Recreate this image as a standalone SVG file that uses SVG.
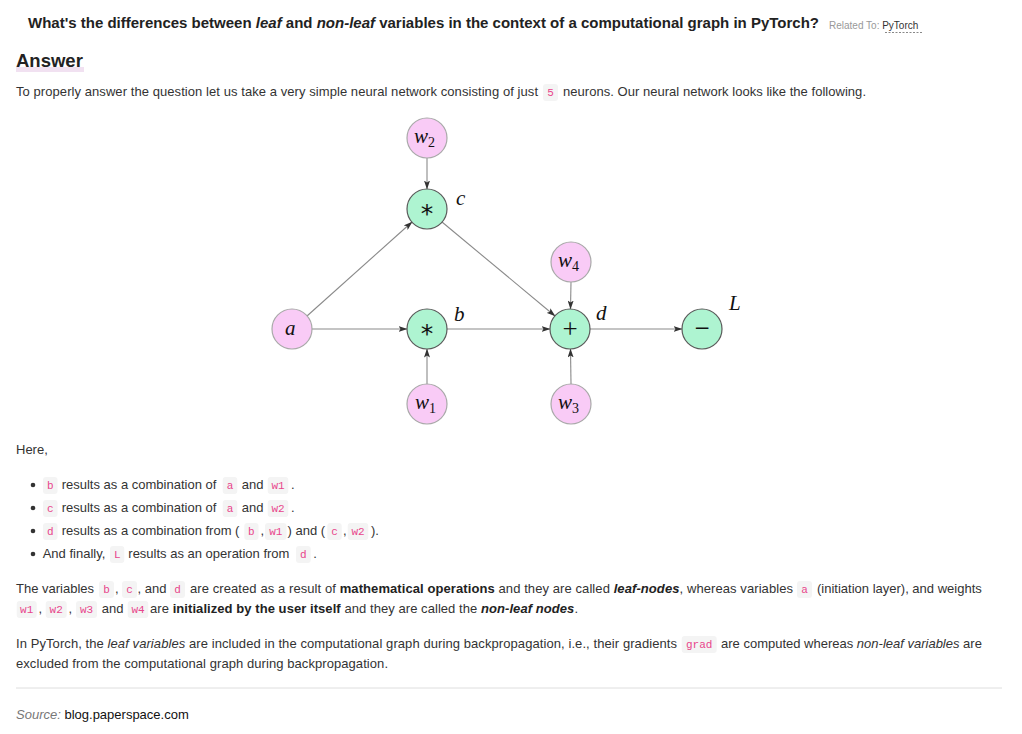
<svg xmlns="http://www.w3.org/2000/svg" width="1022" height="734" viewBox="0 0 1022 734">
<style>
.t{font-family:"Liberation Sans",Arial,Helvetica,sans-serif;font-size:13px;fill:#333}
.title{font-family:"Liberation Sans",Arial,sans-serif;font-size:15px;font-weight:bold;fill:#222}
.rel{font-family:"Liberation Sans",Arial,sans-serif;font-size:10px;fill:#999}
.b{font-weight:bold;fill:#222}
.i{font-style:italic}
.cb{fill:#f4f4f4}
.code{font-family:"Liberation Mono","DejaVu Sans Mono",monospace;font-size:11px;fill:#e8458b;text-anchor:middle}
.pink{fill:#f9cbf6;stroke:#a9a9a9;stroke-width:1.2}
.green{fill:#aef4d1;stroke:#5a5a5a;stroke-width:1.2}
.m{font-family:"Liberation Serif","DejaVu Serif",serif;font-style:italic;font-size:21px;fill:#111}
.sub{font-family:"Liberation Serif","DejaVu Serif",serif;font-style:normal;font-size:14px}
.op{font-family:"Liberation Serif","DejaVu Serif",serif;font-size:27px;fill:#111;text-anchor:middle}
.ast{font-family:"DejaVu Sans",sans-serif;font-size:25px;fill:#111;text-anchor:middle}
.edge{stroke:#8a8a8a;stroke-width:1.1;fill:none;marker-end:url(#arr)}
</style>
<defs>
<marker id="arr" markerWidth="9" markerHeight="6" refX="8.5" refY="3" orient="auto" markerUnits="userSpaceOnUse">
<path d="M0,0 L9,3 L0,6 L2,3 z" fill="#333"/>
</marker>
</defs>
<rect width="1022" height="734" fill="#fff"/>

<!-- header -->
<text class="title" x="28" y="28">What's the differences between <tspan class="i">leaf</tspan> and <tspan class="i">non-leaf</tspan> variables in the context of a computational graph in PyTorch?</text>
<text class="rel" x="829" y="29">Related To: <tspan fill="#333">PyTorch</tspan></text>
<line x1="885" y1="32.5" x2="923" y2="32.5" stroke="#888" stroke-width="1" stroke-dasharray="2,1.5"/>
<rect x="16" y="67" width="68" height="5" fill="#f1e1f1"/>
<text x="16" y="67" font-family="'Liberation Sans',Arial,sans-serif" font-size="18.5" font-weight="bold" fill="#222">Answer</text>
<text class="t" x="16" y="96" textLength="522" lengthAdjust="spacing">To properly answer the question let us take a very simple neural network consisting of just</text>
<rect class="cb" x="543" y="84" width="15" height="17" rx="3"/>
<text class="code" x="550.5" y="96">5</text>
<text class="t" x="563" y="96" textLength="303" lengthAdjust="spacing">neurons. Our neural network looks like the following.</text>

<!-- connectors -->
<g id="connectors">
<line class="edge" x1="427" y1="158" x2="427" y2="189"/>
<line class="edge" x1="307" y1="316" x2="412" y2="222"/>
<line class="edge" x1="312" y1="329" x2="407" y2="329"/>
<line class="edge" x1="427" y1="384" x2="427" y2="349"/>
<line class="edge" x1="442" y1="222" x2="555" y2="316"/>
<line class="edge" x1="447" y1="329" x2="550" y2="329"/>
<line class="edge" x1="571" y1="282" x2="570.5" y2="309"/>
<line class="edge" x1="571" y1="384" x2="570.5" y2="349"/>
<line class="edge" x1="590" y1="329" x2="682" y2="329"/>
</g>

<!-- nodes -->
<g id="node-w2"><circle class="pink" cx="427" cy="138" r="20"/><text class="m" x="414" y="143">w<tspan class="sub" dy="4">2</tspan></text></g>
<g id="node-c"><circle class="green" cx="427" cy="209" r="20"/><text class="ast" x="427" y="222">*</text><text class="m" x="456" y="205">c</text></g>
<g id="node-a"><circle class="pink" cx="292" cy="329" r="20"/><text class="m" x="285" y="335">a</text></g>
<g id="node-b"><circle class="green" cx="427" cy="329" r="20"/><text class="ast" x="427" y="342">*</text><text class="m" x="454" y="321">b</text></g>
<g id="node-w1"><circle class="pink" cx="427" cy="404" r="20"/><text class="m" x="415" y="409">w<tspan class="sub" dy="4">1</tspan></text></g>
<g id="node-w4"><circle class="pink" cx="571" cy="262" r="20"/><text class="m" x="558" y="267">w<tspan class="sub" dy="4">4</tspan></text></g>
<g id="node-d"><circle class="green" cx="570" cy="329" r="20"/><text class="op" x="570" y="338">+</text><text class="m" x="596" y="320">d</text></g>
<g id="node-w3"><circle class="pink" cx="571" cy="404" r="20"/><text class="m" x="558" y="409">w<tspan class="sub" dy="4">3</tspan></text></g>
<g id="node-L"><circle class="green" cx="702" cy="329" r="20"/><text class="op" x="702" y="337" font-size="31">−</text><text class="m" x="729" y="310">L</text></g>

<!-- text below -->
<text class="t" x="16" y="454">Here,</text>
<g id="bullets">
<circle cx="33" cy="485" r="2.3" fill="#333"/>
<circle cx="33" cy="508" r="2.3" fill="#333"/>
<circle cx="33" cy="531" r="2.3" fill="#333"/>
<circle cx="33" cy="554" r="2.3" fill="#333"/>
<!-- line 1 -->
<rect class="cb" x="43" y="477" width="14.5" height="17" rx="3"/><text class="code" x="50.2" y="489">b</text>
<text class="t" x="61.7" y="489">results as a combination of</text>
<rect class="cb" x="222.7" y="477" width="14.6" height="17" rx="3"/><text class="code" x="230" y="489">a</text>
<text class="t" x="241.7" y="489">and</text>
<rect class="cb" x="267.7" y="477" width="20.6" height="17" rx="3"/><text class="code" x="278" y="489">w1</text>
<text class="t" x="291" y="489">.</text>
<!-- line 2 -->
<rect class="cb" x="43" y="500" width="14.5" height="17" rx="3"/><text class="code" x="50.2" y="512">c</text>
<text class="t" x="61.7" y="512">results as a combination of</text>
<rect class="cb" x="222.7" y="500" width="14.6" height="17" rx="3"/><text class="code" x="230" y="512">a</text>
<text class="t" x="241.7" y="512">and</text>
<rect class="cb" x="267.7" y="500" width="20.6" height="17" rx="3"/><text class="code" x="278" y="512">w2</text>
<text class="t" x="291" y="512">.</text>
<!-- line 3 -->
<rect class="cb" x="43" y="523" width="14.5" height="17" rx="3"/><text class="code" x="50.2" y="535">d</text>
<text class="t" x="61.7" y="535">results as a combination from (</text>
<rect class="cb" x="244.3" y="523" width="14.2" height="17" rx="3"/><text class="code" x="251.4" y="535">b</text>
<text class="t" x="260.5" y="535">,</text>
<rect class="cb" x="265" y="523" width="21.5" height="17" rx="3"/><text class="code" x="275.8" y="535">w1</text>
<text class="t" x="287.5" y="535">) and (</text>
<rect class="cb" x="327.3" y="523" width="14.4" height="17" rx="3"/><text class="code" x="334.5" y="535">c</text>
<text class="t" x="343" y="535">,</text>
<rect class="cb" x="347.7" y="523" width="20.6" height="17" rx="3"/><text class="code" x="358" y="535">w2</text>
<text class="t" x="371" y="535">).</text>
<!-- line 4 -->
<text class="t" x="42.7" y="558">And finally,</text>
<rect class="cb" x="110" y="546" width="14.3" height="17" rx="3"/><text class="code" x="117.2" y="558">L</text>
<text class="t" x="128.3" y="558">results as an operation from</text>
<rect class="cb" x="296" y="546" width="14.7" height="17" rx="3"/><text class="code" x="303.3" y="558">d</text>
<text class="t" x="313.3" y="558">.</text>
</g>

<g id="para1">
<text class="t" x="16" y="593">The variables</text>
<rect class="cb" x="99" y="581" width="15" height="17" rx="3"/><text class="code" x="106.5" y="593">b</text>
<text class="t" x="115" y="593">,</text>
<rect class="cb" x="122" y="581" width="15" height="17" rx="3"/><text class="code" x="129.5" y="593">c</text>
<text class="t" x="137.5" y="593">, and</text>
<rect class="cb" x="170" y="581" width="15" height="17" rx="3"/><text class="code" x="177.5" y="593">d</text>
<text class="t" x="190" y="593" textLength="603" lengthAdjust="spacing">are created as a result of <tspan class="b">mathematical operations</tspan> and they are called <tspan class="b i">leaf-nodes</tspan>, whereas variables</text>
<rect class="cb" x="797" y="581" width="15" height="17" rx="3"/><text class="code" x="804.5" y="593">a</text>
<text class="t" x="817" y="593">(initiation layer), and weights</text>
<rect class="cb" x="16.7" y="601" width="20" height="17" rx="3"/><text class="code" x="26.7" y="613">w1</text>
<text class="t" x="38.5" y="613">,</text>
<rect class="cb" x="45.7" y="601" width="21" height="17" rx="3"/><text class="code" x="56.2" y="613">w2</text>
<text class="t" x="68.5" y="613">,</text>
<rect class="cb" x="76" y="601" width="21" height="17" rx="3"/><text class="code" x="86.5" y="613">w3</text>
<text class="t" x="101.7" y="613">and</text>
<rect class="cb" x="127.7" y="601" width="20.6" height="17" rx="3"/><text class="code" x="138" y="613">w4</text>
<text class="t" x="150" y="613" textLength="428" lengthAdjust="spacing">are <tspan class="b">initialized by the user itself</tspan> and they are called the <tspan class="b i">non-leaf nodes</tspan>.</text>
</g>

<g id="para2">
<text class="t" x="16" y="648" textLength="661" lengthAdjust="spacing">In PyTorch, the <tspan class="i">leaf variables</tspan> are included in the computational graph during backpropagation, i.e., their gradients</text>
<rect class="cb" x="681.7" y="636" width="35" height="17" rx="3"/><text class="code" x="699.2" y="648">grad</text>
<text class="t" x="721" y="648">are computed whereas <tspan class="i">non-leaf variables</tspan> are</text>
<text class="t" x="16" y="668" textLength="372" lengthAdjust="spacing">excluded from the computational graph during backpropagation.</text>
</g>

<line x1="16" y1="688" x2="1002" y2="688" stroke="#dedede" stroke-width="1"/>
<text class="t" x="16" y="719"><tspan class="i" fill="#777">Source:</tspan> <tspan fill="#111">blog.paperspace.com</tspan></text>
</svg>
